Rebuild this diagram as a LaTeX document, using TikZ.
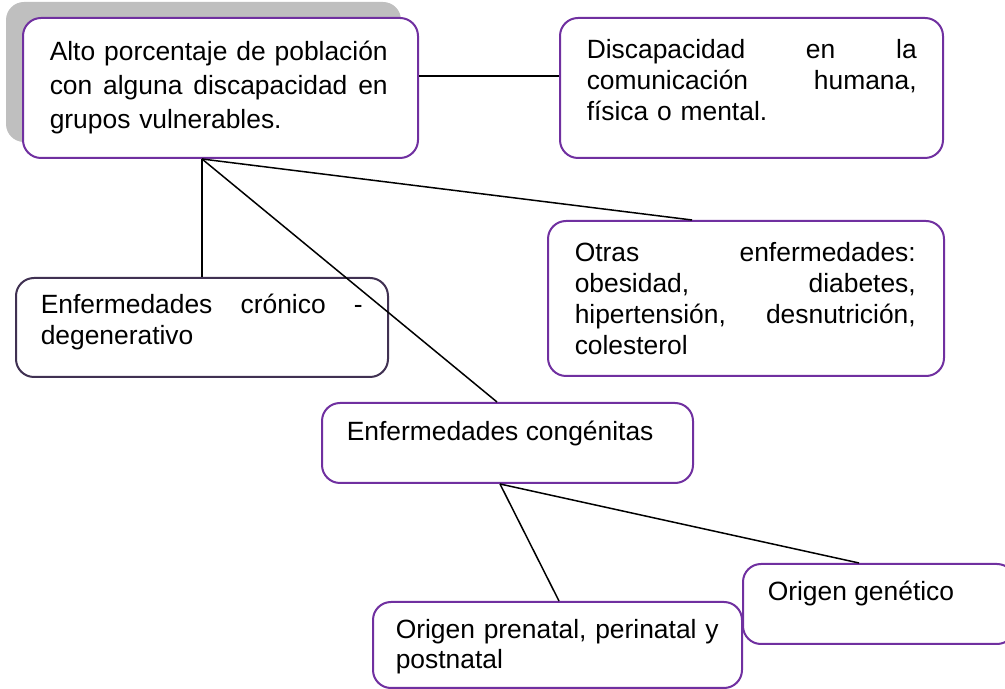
\documentclass[tikz,border=0pt]{standalone}
\usepackage{fontspec}
\setmainfont{Liberation Sans}
\usetikzlibrary{shadows}

\definecolor{boxpurple}{HTML}{7030A0}
\definecolor{boxdark}{HTML}{403152}

\tikzset{
  box/.style={draw=boxpurple, line width=2bp, rounded corners=18bp, fill=white, inner sep=0pt},
  lbl/.style={font=\fontsize{26.5}{31}\selectfont, inner sep=0pt, align=left, anchor=base west},
}

\begin{document}
\begin{tikzpicture}[line join=bevel,]
  \pgfsetlinewidth{1.5bp}
  \useasboundingbox (0bp,0bp) rectangle (1005bp,689bp);
%%
  % Node: alto
  \node [box, minimum width=395bp, minimum height=140bp,
         drop shadow={shadow xshift=-17bp, shadow yshift=16bp, fill=black!25, opacity=1}]
        (alto) at (220.5bp,601bp) {};
  \node [lbl, text width=338bp, font=\fontsize{26.5}{34}\selectfont]
        (altoT) at ([shift={(27bp,-44bp)}]alto.north west)
        {Alto\hfill porcentaje\hfill de\hfill población\\con\hfill alguna\hfill discapacidad\hfill en\\grupos vulnerables.};
  % Node: discap
  \node [box, minimum width=383bp, minimum height=140bp] (discap) at (751.5bp,601bp) {};
  \node [lbl, text width=330bp] (discapT) at ([shift={(27bp,-42bp)}]discap.north west)
        {Discapacidad\hfill en\hfill la\\comunicación\hfill humana,\\física o mental.};
  % Node: cronico
  \node [box, draw=boxdark, minimum width=372bp, minimum height=99bp] (cronico) at (202bp,361.5bp) {};
  \node [lbl, text width=322bp] (cronicoT) at ([shift={(25bp,-37bp)}]cronico.north west)
        {Enfermedades\hfill crónico\hfill -\\degenerativo};
  % Node: otras
  \node [box, minimum width=396bp, minimum height=155bp] (otras) at (746bp,390.5bp) {};
  \node [lbl, text width=341bp] (otrasT) at ([shift={(27bp,-42bp)}]otras.north west)
        {Otras\hfill enfermedades:\\obesidad,\hfill diabetes,\\hipertensión,\hfill desnutrición,\\colesterol};
  % Node: congen
  \node [box, minimum width=371bp, minimum height=80bp] (congen) at (507.5bp,246bp) {};
  \node [lbl] (congenT) at ([shift={(25bp,-39bp)}]congen.north west) {Enfermedades congénitas};
  % Node: prenatal
  \node [box, minimum width=369bp, minimum height=86bp] (prenatal) at (557.5bp,44bp) {};
  \node [lbl, text width=340bp, font=\fontsize{26.5}{30}\selectfont]
        (prenatalT) at ([shift={(23bp,-38bp)}]prenatal.north west)
        {Origen prenatal, perinatal y\\postnatal};
  % Node: genetico
  \node [box, minimum width=272bp, minimum height=80bp] (genetico) at (879bp,85bp) {};
  \node [lbl] (geneticoT) at ([shift={(25bp,-38bp)}]genetico.north west) {Origen genético};
%%
  % Edge: alto -> discap
  \draw ([yshift=12bp]alto.east) -- ([yshift=12bp]discap.west);
  % Edge: alto -> cronico
  \draw (alto.south -| cronico.north) -- (cronico.north);
  % Edge: alto -> otras
  \draw (alto.south -| cronico.north) -- ([xshift=145bp]otras.north west);
  % Edge: alto -> congen
  \draw (alto.south -| cronico.north) -- ([xshift=176bp]congen.north west);
  % Edge: congen -> prenatal
  \draw ([xshift=179bp]congen.south west) -- ([xshift=187bp]prenatal.north west);
  % Edge: congen -> genetico
  \draw ([xshift=179bp]congen.south west) -- ([xshift=117bp]genetico.north west);
%
\end{tikzpicture}
\end{document}
